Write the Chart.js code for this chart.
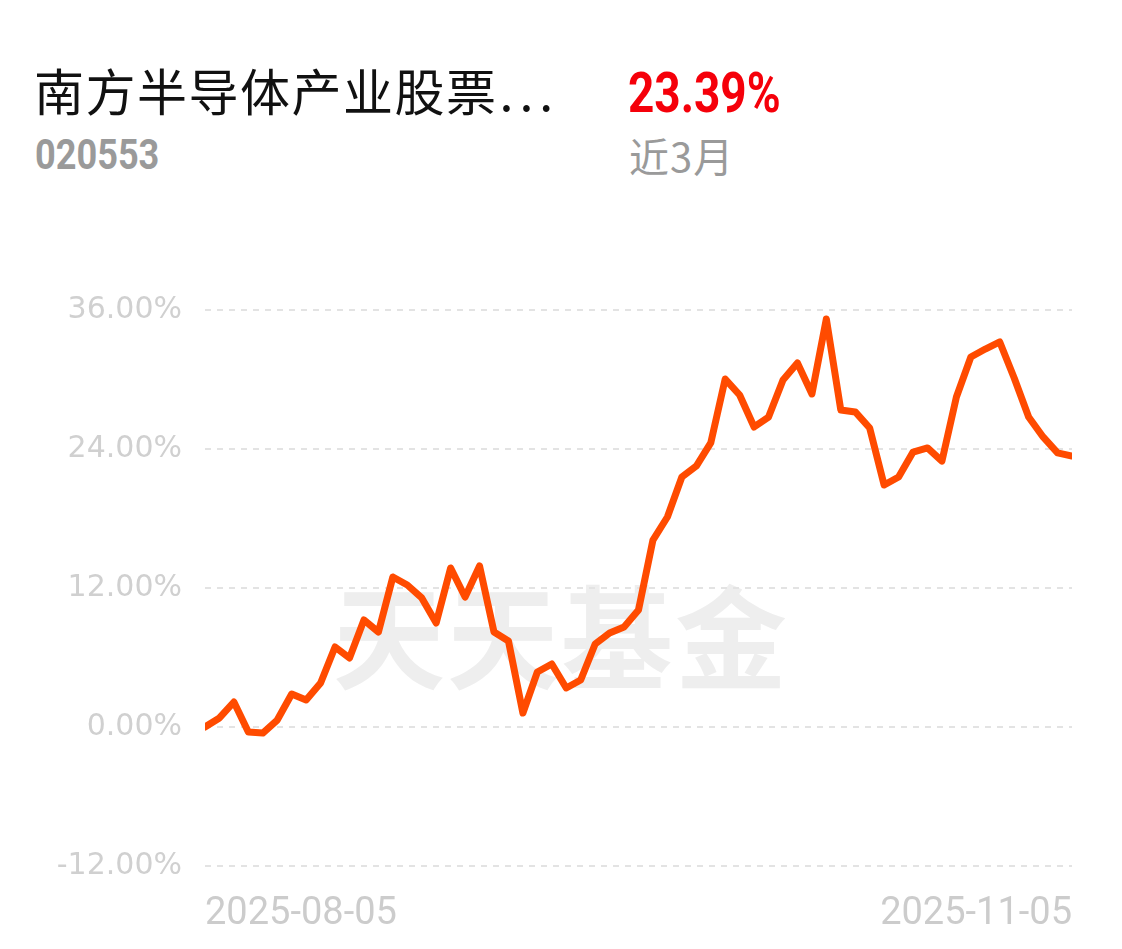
<!DOCTYPE html>
<html>
<head>
<meta charset="utf-8">
<script src="https://cdn.jsdelivr.net/npm/chart.js"></script>
<style>
    html, body { margin: 0; padding: 0; background: #fff; }
    #page { position: relative; width: 1122px; height: 949px; overflow: hidden; }
    .txt { position: absolute; white-space: nowrap; }
    #fund-name { left: 34px; top: 64px; font: 50px/50px "Noto Sans CJK SC", sans-serif; color: #111; letter-spacing: 1.5px; }
    #fund-name .dots { letter-spacing: 6px; margin-left: 2px; }
    #fund-code { left: 35px; top: 134px; font: bold 42px/42px Roboto, sans-serif; color: #9a9a9a; transform: scaleX(0.86); transform-origin: left top; }
    #fund-return { left: 628px; top: 65px; font: bold 56px/56px Roboto, sans-serif; color: #f5000a; transform: scaleX(0.82); transform-origin: left top; }
    #fund-period { left: 629px; top: 134px; font: 40px/42px "Noto Sans CJK SC", sans-serif; color: #9a9a9a; letter-spacing: 1px; }
    #watermark { left: 333px; top: 572px; font: bold 112px/120px "Noto Sans CJK SC", sans-serif; color: #eeeeee; letter-spacing: 2px; z-index: 0; }
    #chart-wrap { position: absolute; left: 0; top: 0; width: 1122px; height: 949px; z-index: 1; }
</style>
</head>
<body>
<div id="page">
    <div class="txt" id="fund-name">南方半导体产业股票<span class="dots">...</span></div>
    <div class="txt" id="fund-code">020553</div>
    <div class="txt" id="fund-return">23.39%</div>
    <div class="txt" id="fund-period">近3月</div>
    <div class="txt" id="watermark">天天基金</div>
    <div id="chart-wrap"><canvas id="navChart"></canvas></div>
</div>
<script>
// cumulative return (%) per trading day
const returnValues = [
    0, 0.78, 2.16, -0.43, -0.52, 0.60, 2.85, 2.33, 3.80, 6.91,
    5.96, 9.24, 8.20, 12.95, 12.26, 11.14, 8.98, 13.73, 11.22, 13.90,
    8.20, 7.42, 1.21, 4.75, 5.44, 3.37, 4.06, 7.17, 8.12, 8.63,
    10.10, 16.14, 18.13, 21.58, 22.53, 24.52, 30.04, 28.66, 25.90, 26.76,
    29.96, 31.43, 28.75, 35.22, 27.37, 27.20, 25.81, 20.89, 21.58, 23.74,
    24.09, 22.96, 28.49, 31.94, 32.63, 33.24, 30.13, 26.76, 25.04, 23.66,
    23.39
];
const xTickLabels = ['2025-08-05', '2025-11-05'];
const yTicks = [-12, 0, 12, 24, 36];

document.addEventListener('DOMContentLoaded', function () {
    const points = returnValues.map((v, i) => ({ x: i, y: v }));
    const lastIndex = returnValues.length - 1;

    const ctx = document.getElementById('navChart').getContext('2d');
    new Chart(ctx, {
        type: 'line',
        data: {
            datasets: [{
                data: points,
                borderColor: '#ff4b00',
                borderWidth: 7,
                pointRadius: 0,
                tension: 0,
                borderJoinStyle: 'round',
                borderCapStyle: 'round'
            }]
        },
        options: {
            responsive: true,
            maintainAspectRatio: false,
            animation: false,
            layout: { padding: { top: 310, right: 50, bottom: 0, left: 0 } },
            plugins: {
                legend: { display: false },
                tooltip: { enabled: false }
            },
            scales: {
                x: {
                    type: 'linear',
                    min: 0,
                    max: lastIndex,
                    grid: { display: false },
                    border: { display: false },
                    afterBuildTicks: (axis) => {
                        axis.ticks = [{ value: 0 }, { value: lastIndex }];
                    },
                    afterFit: (scale) => { scale.height = 83; },
                    ticks: {
                        align: 'inner',
                        maxRotation: 0,
                        padding: 18,
                        color: '#cccccc',
                        font: { family: 'Roboto', size: 38 },
                        callback: (value, index) => xTickLabels[index]
                    }
                },
                y: {
                    min: yTicks[0],
                    max: yTicks[yTicks.length - 1],
                    afterBuildTicks: (axis) => {
                        axis.ticks = yTicks.map(v => ({ value: v }));
                    },
                    afterFit: (scale) => { scale.width = 205; },
                    grid: {
                        color: '#e3e3e3',
                        lineWidth: 2,
                        drawTicks: false
                    },
                    border: { display: false, dash: [6, 6] },
                    ticks: {
                        padding: 23,
                        color: '#d0d0d0',
                        font: { family: 'DejaVu Sans', size: 30 },
                        callback: (value) => value.toFixed(2) + '%'
                    }
                }
            }
        }
    });
});
</script>
</body>
</html>
